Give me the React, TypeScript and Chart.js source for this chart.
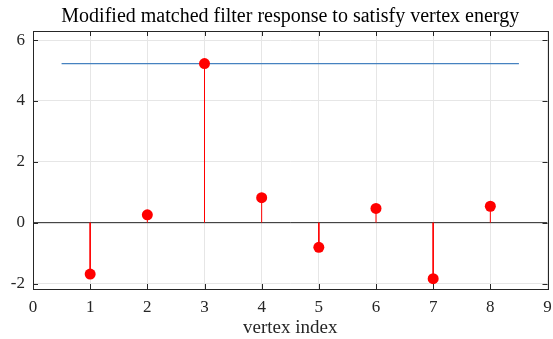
import React, { useEffect, useRef } from "react";
import { Chart, registerables } from "chart.js";

Chart.register(...registerables);

const vertexIndex = [1, 2, 3, 4, 5, 6, 7, 8];
const response = [-1.69, 0.26, 5.23, 0.82, -0.81, 0.47, -1.84, 0.54];
const energyLineX = [0.5, 8.5];
const energyLevel = 5.23;
const yTicks = [-2, 0, 2, 4, 6];
const xRange = [0, 9];
const yRange = [-2.18, 6.3];
const chartTitle = "Modified matched filter response to satisfy vertex energy";

const FONT = '"Liberation Serif", "DejaVu Serif", serif';
const DARK = "#262626";

const boxPlugin = {
  id: "matlabBox",
  afterDatasetsDraw(chart: any) {
    const { ctx, chartArea } = chart;
    const { left, right, top, bottom } = chartArea;
    const xs = chart.scales.x;
    const ys = chart.scales.y;
    const tl = 5;
    ctx.save();
    ctx.strokeStyle = DARK;
    ctx.lineWidth = 1;
    ctx.beginPath();
    xs.ticks.forEach((t: any) => {
      const px = Math.round(xs.getPixelForValue(t.value)) + 0.5;
      ctx.moveTo(px, bottom);
      ctx.lineTo(px, bottom - tl);
      ctx.moveTo(px, top);
      ctx.lineTo(px, top + tl);
    });
    ys.ticks.forEach((t: any) => {
      const py = Math.round(ys.getPixelForValue(t.value)) + 0.5;
      ctx.moveTo(left, py);
      ctx.lineTo(left + tl, py);
      ctx.moveTo(right, py);
      ctx.lineTo(right - tl, py);
    });
    ctx.stroke();
    ctx.strokeRect(Math.round(left) + 0.5, Math.round(top) + 0.5, Math.round(right - left), Math.round(bottom - top));
    // title centred over the plot area
    ctx.fillStyle = "#000";
    ctx.font = `20px ${FONT}`;
    ctx.textAlign = "center";
    ctx.textBaseline = "alphabetic";
    ctx.fillText(chartTitle, (left + right) / 2, 22);
    ctx.restore();
  },
};

export default function App() {
  const ref = useRef<HTMLCanvasElement | null>(null);
  useEffect(() => {
    document.body.style.margin = "0";
    const stems: any[] = [];
    vertexIndex.forEach((x, i) => {
      stems.push({ x, y: 0 }, { x, y: response[i] }, { x, y: NaN });
    });
    const markers = vertexIndex.map((x, i) => ({ x, y: response[i] }));
    const chart = new Chart(ref.current as HTMLCanvasElement, {
      type: "scatter",
      data: {
        datasets: [
          {
            data: markers,
            pointRadius: 5.5,
            pointBackgroundColor: "#ff0000",
            pointBorderColor: "#ff0000",
            pointBorderWidth: 0,
            showLine: false,
            order: 0,
          },
          {
            data: stems,
            showLine: true,
            spanGaps: false,
            pointRadius: 0,
            borderColor: "#ff0000",
            borderWidth: 1,
            order: 1,
          },
          {
            data: [
              { x: xRange[0], y: 0 },
              { x: xRange[1], y: 0 },
            ],
            showLine: true,
            pointRadius: 0,
            borderColor: DARK,
            borderWidth: 1,
            order: 2,
          },
          {
            data: energyLineX.map((x) => ({ x, y: energyLevel })),
            showLine: true,
            pointRadius: 0,
            borderColor: "#4682c0",
            borderWidth: 1.2,
            order: 3,
          },
        ],
      },
      options: {
        responsive: false,
        animation: false,
        events: [],
        layout: { padding: { left: 0, right: 5, top: 31, bottom: 0 } },
        plugins: {
          legend: { display: false },
          tooltip: { enabled: false },
          title: { display: false },
        },
        scales: {
          x: {
            type: "linear",
            min: xRange[0],
            max: xRange[1],
            ticks: {
              stepSize: 1,
              color: DARK,
              font: { family: FONT, size: 17 },
              padding: 8,
              maxRotation: 0,
            },
            grid: { color: "#e6e6e6", drawTicks: false },
            border: { display: false },
            title: {
              display: true,
              text: "vertex index",
              color: DARK,
              font: { family: FONT, size: 19, lineHeight: 1.2 },
              padding: { top: 0, bottom: 0 },
            },
            afterFit(scale: any) {
              scale.height = 50;
              scale.paddingLeft = 0;
              scale.paddingRight = 0;
            },
          },
          y: {
            type: "linear",
            min: yRange[0],
            max: yRange[1],
            afterBuildTicks(scale: any) {
              scale.ticks = yTicks.map((v) => ({ value: v }));
            },
            ticks: {
              color: DARK,
              font: { family: FONT, size: 17 },
              padding: 8,
            },
            grid: { color: "#e6e6e6", drawTicks: false },
            border: { display: false },
            afterFit(scale: any) {
              scale.width = 33;
              scale.paddingTop = 0;
              scale.paddingBottom = 0;
            },
          },
        },
      },
      plugins: [boxPlugin],
    });
    return () => chart.destroy();
  }, []);
  return (
    <div style={{ width: 553, height: 339 }}>
      <canvas ref={ref} width={553} height={339} style={{ display: "block" }} />
    </div>
  );
}
